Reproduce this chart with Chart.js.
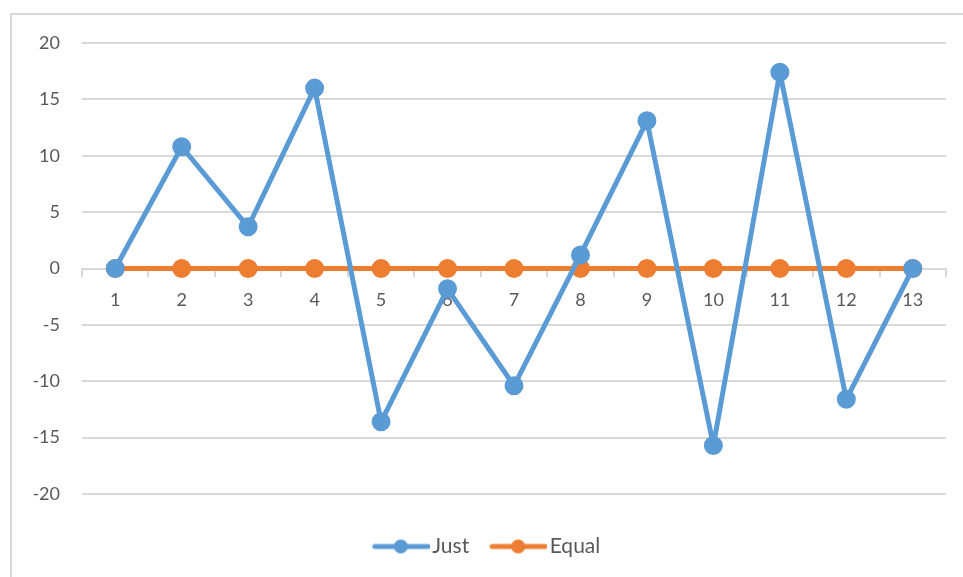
<!DOCTYPE html>
<html>
<head>
<meta charset="utf-8">
<script src="https://cdn.jsdelivr.net/npm/chart.js@4"></script>
<style>
  body { margin: 0; background: #fff; overflow: hidden; }
  #wrap { position: relative; width: 963px; height: 577px; }
  #frame { position: absolute; left: 10px; top: 13px; width: 1000px; height: 700px;
           border: 2px solid #d9d9d9; box-sizing: border-box; pointer-events: none; }
</style>
</head>
<body>
<div id="wrap">
  <canvas id="c" width="963" height="577"></canvas>
  <div id="frame"></div>
</div>
<script>
// values
var categories = ['1', '2', '3', '4', '5', '6', '7', '8', '9', '10', '11', '12', '13'];
var justValues = [0, 10.8, 3.7, 16.0, -13.6, -1.8, -10.4, 1.2, 13.1, -15.7, 17.4, -11.6, 0];
var equalValues = [0, 0, 0, 0, 0, 0, 0, 0, 0, 0, 0, 0, 0];
var yTicks = [-20, -15, -10, -5, 0, 5, 10, 15, 20];

var BLUE = '#5b9bd5';
var ORANGE = '#ed7d31';
var FONT = 'Lato, "Open Sans", sans-serif';

// legend marker: short line with a dot in the middle (shifted right so it hugs the text)
function legendMarker(color) {
  var cv = document.createElement('canvas');
  cv.width = 72; cv.height = 16;
  var g = cv.getContext('2d');
  g.strokeStyle = color;
  g.lineWidth = 5;
  g.lineCap = 'round';
  g.beginPath();
  g.moveTo(17, 8); g.lineTo(70, 8);
  g.stroke();
  g.fillStyle = color;
  g.beginPath();
  g.arc(43, 8, 7, 0, Math.PI * 2);
  g.fill();
  return cv;
}

var markers = [legendMarker(BLUE), legendMarker(ORANGE)];

// push the legend down a bit, like the original
var legendShift = {
  id: 'legendShift',
  afterLayout: function(chart) {
    var lg = chart.legend;
    if (lg) { lg.top += 28; lg.bottom += 28; }
  }
};

new Chart(document.getElementById('c').getContext('2d'), {
  type: 'line',
  data: {
    labels: categories,
    datasets: [{
      label: 'Just',
      data: justValues,
      borderColor: BLUE,
      backgroundColor: BLUE,
      borderWidth: 5,
      borderJoinStyle: 'round',
      pointRadius: 7,
      pointHoverRadius: 7,
      tension: 0
    }, {
      label: 'Equal',
      data: equalValues,
      borderColor: ORANGE,
      backgroundColor: ORANGE,
      borderWidth: 5,
      borderJoinStyle: 'round',
      pointRadius: 7,
      pointHoverRadius: 7,
      tension: 0
    }]
  },
  plugins: [legendShift],
  options: {
    responsive: false,
    devicePixelRatio: 1,
    animation: false,
    layout: { padding: { left: 20, right: 17, top: 43, bottom: 38 } },
    scales: {
      x: {
        position: { y: 0 },
        offset: true,
        grid: {
          offset: true,
          drawOnChartArea: false,
          drawTicks: true,
          tickLength: 7,
          color: '#d9d9d9',
          lineWidth: 2
        },
        border: { display: true, color: '#d9d9d9', width: 2 },
        ticks: { color: '#595959', font: { family: FONT, size: 18 }, padding: 14 }
      },
      y: {
        min: -20,
        max: 20,
        afterBuildTicks: function(scale) {
          scale.ticks = yTicks.map(function(v) { return { value: v }; });
        },
        afterFit: function(scale) { scale.width = 62; },
        grid: { color: '#d9d9d9', lineWidth: 2, drawTicks: false },
        border: { display: false },
        ticks: { color: '#595959', font: { family: FONT, size: 18 }, padding: 22 }
      }
    },
    plugins: {
      tooltip: { enabled: false },
      legend: {
        position: 'bottom',
        labels: {
          color: '#595959',
          font: { family: FONT, size: 21 },
          padding: 14,
          boxHeight: 16,
          pointStyleWidth: 56,
          usePointStyle: true,
          generateLabels: function(chart) {
            return chart.data.datasets.map(function(ds, i) {
              return {
                text: ds.label,
                pointStyle: markers[i],
                fillStyle: ds.borderColor,
                strokeStyle: ds.borderColor,
                lineWidth: 0,
                fontColor: '#595959',
                datasetIndex: i
              };
            });
          }
        }
      }
    }
  }
});
</script>
</body>
</html>
